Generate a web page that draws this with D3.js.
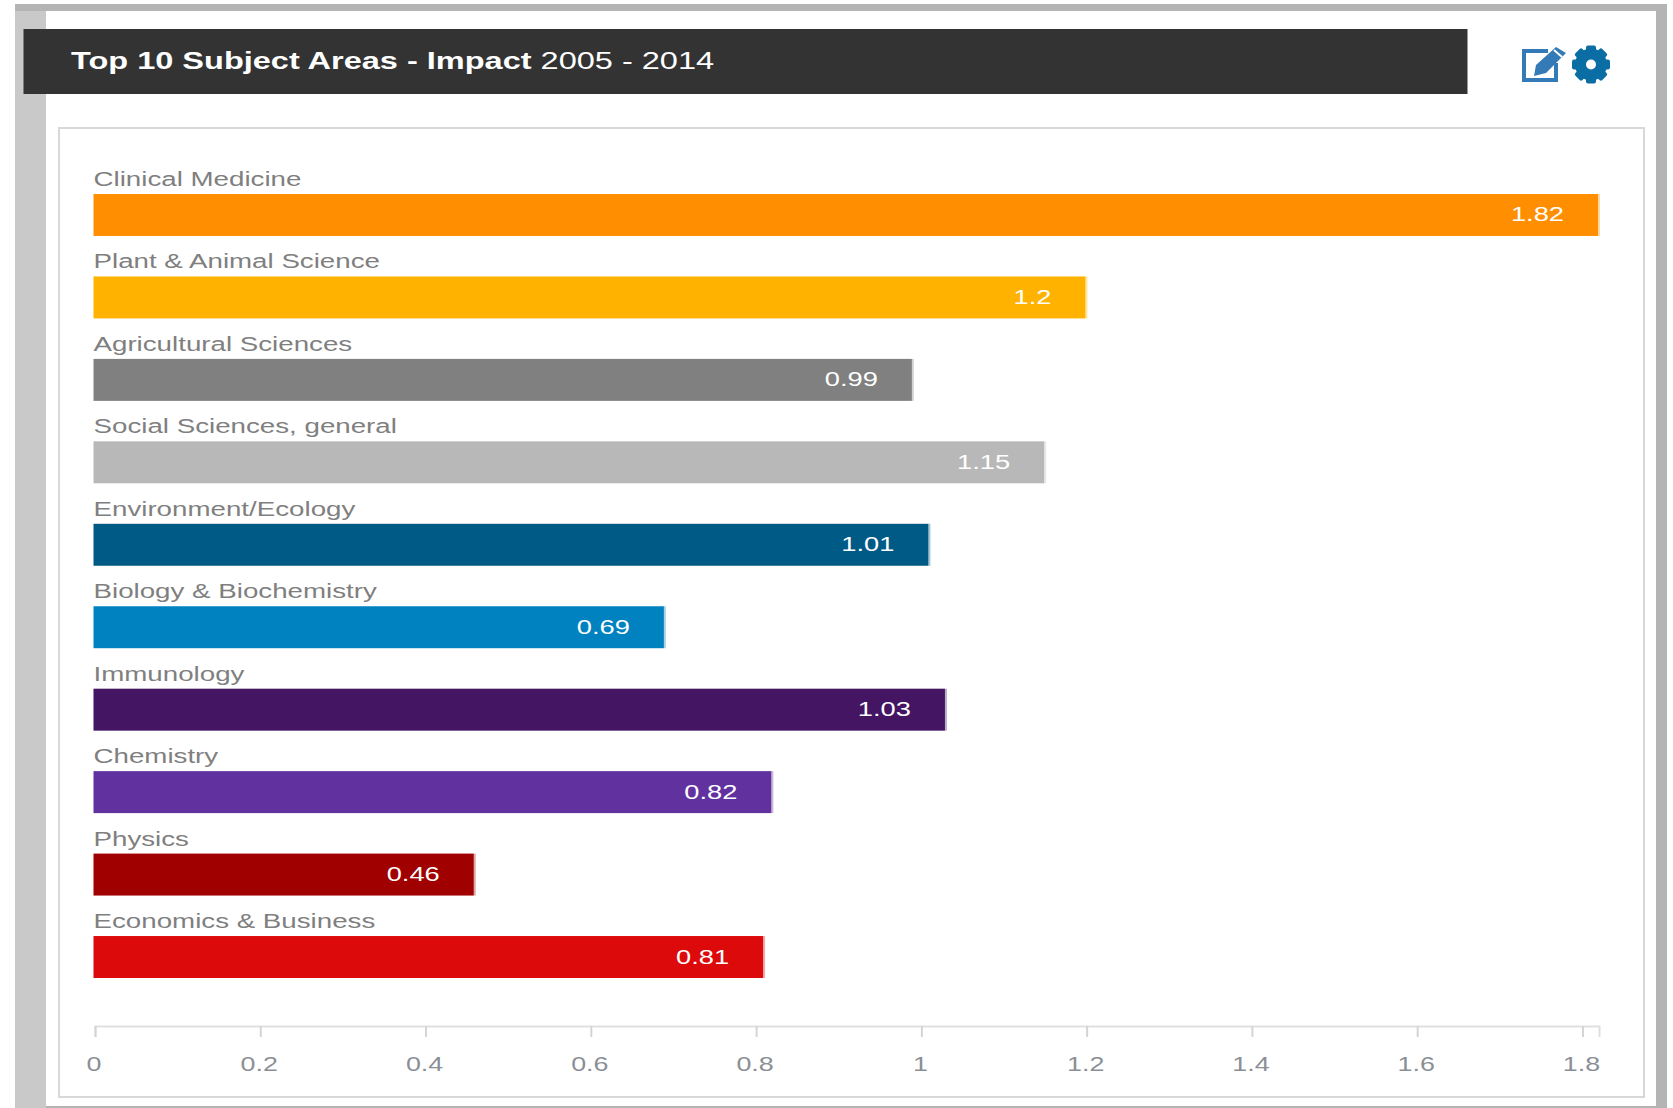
<!DOCTYPE html>
<html>
<head>
<meta charset="utf-8">
<style>
  html, body { margin: 0; background: #fff; }
  svg { display: block; }
  text { font-family: "Liberation Sans", Arial, sans-serif; }
</style>
</head>
<body>
<div id="chart"></div>
<script src="https://d3js.org/d3.v7.min.js"></script>
<script>
const categories = ["Clinical Medicine", "Plant & Animal Science", "Agricultural Sciences",
  "Social Sciences, general", "Environment/Ecology", "Biology & Biochemistry",
  "Immunology", "Chemistry", "Physics", "Economics & Business"];
const impact = [1.82, 1.2, 0.99, 1.15, 1.01, 0.69, 1.03, 0.82, 0.46, 0.81];
const barColors = ["#ff8f00", "#ffb300", "#808080", "#b8b8b8", "#005a86",
  "#0082c1", "#431563", "#6131a0", "#a00000", "#dc0a0a"];
const axisTicks = [0, 0.2, 0.4, 0.6, 0.8, 1, 1.2, 1.4, 1.6, 1.8];
const titleBold = "Top 10 Subject Areas - Impact";
const titleRest = "2005 - 2014";

const width = 1673, height = 1108;

const svg = d3.select("#chart").append("svg")
  .attr("width", width)
  .attr("height", height);

// Page frame
svg.append("rect").attr("x", 15).attr("y", 4).attr("width", 1652).attr("height", 1104).attr("fill", "#b4b4b4");
svg.append("rect").attr("x", 15).attr("y", 11).attr("width", 31).attr("height", 1097).attr("fill", "#c9c9c9");
svg.append("rect").attr("x", 46).attr("y", 11).attr("width", 1610).attr("height", 1095).attr("fill", "#fff");

// Title bar
svg.append("rect").attr("x", 23.5).attr("y", 29).attr("width", 1444).attr("height", 65).attr("fill", "#333");

// the screenshot is wider than it is tall, text included
function wideText(sel, x, y, stretch) {
  return sel.attr("transform", `translate(${x},${y}) scale(${stretch},1)`);
}

const title = svg.append("text").attr("font-size", 24).attr("fill", "#fff");
wideText(title, 71, 69, 1.355);
title.append("tspan").attr("font-weight", "bold").text(titleBold);
title.append("tspan").text(" " + titleRest);

// Chart panel
svg.append("rect").attr("x", 59).attr("y", 128).attr("width", 1585).attr("height", 969)
  .attr("fill", "#fff").attr("stroke", "#d8d8d8").attr("stroke-width", 2);

// Scales
const x = d3.scaleLinear().domain([0, 1.82]).range([0, 1504.5]);
const y = d3.scaleBand().domain(categories).range([194, 978]).paddingInner(0.491).paddingOuter(0);

const plot = svg.append("g").attr("transform", "translate(93.5,0)");

const rows = plot.selectAll(".row")
  .data(categories)
  .enter()
  .append("g")
  .attr("class", "row");

rows.append("rect")
  .attr("x", 0)
  .attr("y", (d) => y(d))
  .attr("width", (d, i) => x(impact[i]))
  .attr("height", y.bandwidth())
  .attr("fill", (d, i) => barColors[i]);

// Pale right edge on each bar
rows.append("rect")
  .attr("x", (d, i) => x(impact[i]))
  .attr("y", (d) => y(d))
  .attr("width", 2)
  .attr("height", y.bandwidth())
  .attr("fill", (d, i) => barColors[i])
  .attr("opacity", 0.35);

rows.append("text")
  .attr("font-size", 21)
  .attr("fill", "#7f7f7f")
  .each(function (d) { wideText(d3.select(this), 0, y(d) - 8, 1.32); })
  .text((d) => d);

rows.append("text")
  .attr("font-size", 21)
  .attr("fill", "#fff")
  .attr("text-anchor", "end")
  .each(function (d, i) { wideText(d3.select(this), x(impact[i]) - 34, y(d) + y.bandwidth() / 2 + 6.5, 1.3); })
  .text((d, i) => impact[i]);

// Axis
const axisScale = d3.scaleLinear().domain([0, 1.82]).range([0, 1504]);
const axis = svg.append("g")
  .attr("transform", "translate(95,1026)")
  .call(d3.axisBottom(axisScale).tickValues(axisTicks).tickSize(11).tickPadding(0).tickFormat((d) => d));
axis.selectAll("line").attr("stroke", "#d4d4d4").attr("stroke-width", 2);
axis.select(".domain").attr("stroke", "#e0e0e0").attr("stroke-width", 2).attr("fill", "none");
axis.selectAll("text").each(function (d) {
  d3.select(this)
    .attr("y", null).attr("dy", null)
    .attr("font-size", 21).attr("fill", "#8a8f96")
    .attr("font-family", "Liberation Sans")
    .attr("transform", "translate(-1.5,44.5) scale(1.28,1)");
});

// Toolbar icons
const edit = svg.append("g").attr("transform", "translate(1522,46)");
edit.append("path")
  .attr("d", "M26 5H2V34H34V17")
  .attr("fill", "none").attr("stroke", "#337ab7").attr("stroke-width", 4);
edit.append("path")
  .attr("d", "M14 19L34 1L44 7L24 27L12 30Z")
  .attr("fill", "#337ab7");
edit.append("path")
  .attr("d", "M32 4L40 11").attr("stroke", "#fff").attr("stroke-width", 2);

const gearTeeth = d3.range(8).map((i) => i * 45);
const gear = svg.append("g").attr("transform", "translate(1591,64.5)");
gear.selectAll("rect")
  .data(gearTeeth)
  .enter()
  .append("rect")
  .attr("x", -5).attr("y", -19).attr("width", 10).attr("height", 11).attr("rx", 2)
  .attr("fill", "#0a6ea5")
  .attr("transform", (d) => `rotate(${d})`);
gear.append("circle").attr("r", 10.5).attr("fill", "none").attr("stroke", "#0a6ea5").attr("stroke-width", 11);
</script>
</body>
</html>
